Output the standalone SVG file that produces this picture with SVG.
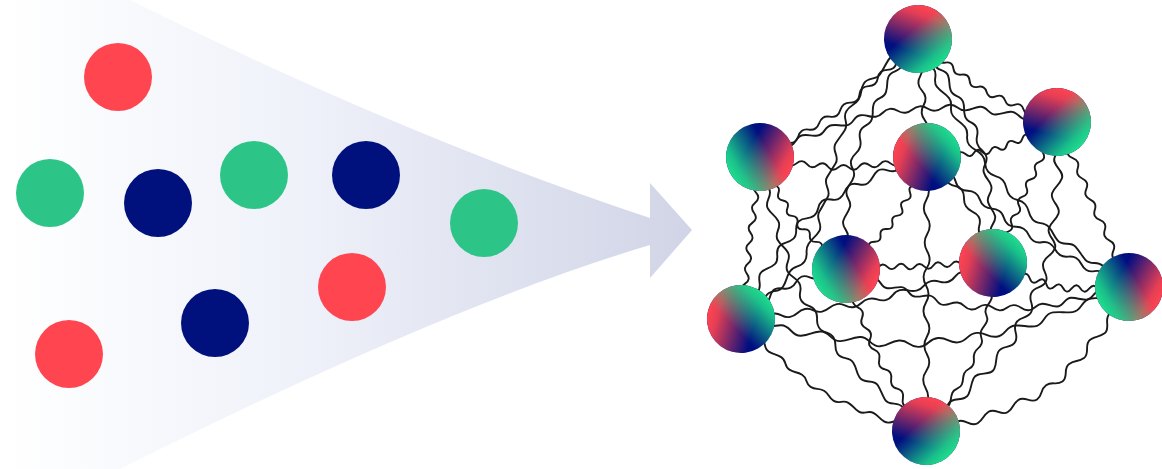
<svg xmlns="http://www.w3.org/2000/svg" xmlns:xlink="http://www.w3.org/1999/xlink" width="1162" height="469" viewBox="0 0 1162 469">
<style>
.red{fill:#FF4650}
.green{fill:#2DC487}
.navy{fill:#00117E}
.wv{fill:none;stroke:#1a1a1a;stroke-width:1.9;stroke-linecap:round;stroke-linejoin:round;vector-effect:non-scaling-stroke}
</style>
<defs>
<linearGradient id="funnelGrad" gradientUnits="userSpaceOnUse" x1="0" y1="0" x2="692" y2="0">
<stop offset="0" stop-color="#FFFFFF"/>
<stop offset="0.45" stop-color="#EEF1F9"/>
<stop offset="1" stop-color="#D0D4E6"/>
</linearGradient>
<linearGradient id="gRed" gradientUnits="userSpaceOnUse" x1="0" y1="-34" x2="0" y2="17">
<stop offset="0" stop-color="#FF4450" stop-opacity="1"/>
<stop offset="0.2" stop-color="#FF4450" stop-opacity="0.9"/>
<stop offset="0.95" stop-color="#FF4450" stop-opacity="0"/>
</linearGradient>
<linearGradient id="gGreen" gradientUnits="userSpaceOnUse" x1="29.44" y1="17" x2="-14.72" y2="-8.5">
<stop offset="0" stop-color="#1EDE8C" stop-opacity="1"/>
<stop offset="0.2" stop-color="#1EDE8C" stop-opacity="0.85"/>
<stop offset="0.88" stop-color="#1EDE8C" stop-opacity="0"/>
</linearGradient>
<g id="orb">
<circle r="34" fill="#000E80"/>
<circle r="34" fill="url(#gRed)"/>
<circle r="34" fill="url(#gGreen)"/>
</g>
<path id="wA" class="wv" d="M0 0 C6.25 0 6.25 3 12.5 3 S18.75 -2 25 -2 S31.25 3 37.5 3 S43.75 -3 50 -3 S56.25 2 62.5 2 S68.75 -3 75 -3 S81.25 2 87.5 2 S93.75 0 100 0"/>
<path id="wB" class="wv" d="M0 0 C6.25 0 6.25 6.7 12.5 6.7 S18.75 4.1 25 4.1 S31.25 12.2 37.5 12.2 S43.75 7 50 7 S56.25 12.3 62.5 12.3 S68.75 4.1 75 4.1 S81.25 6.7 87.5 6.7 S93.75 0 100 0"/>
<path id="wC" class="wv" d="M0 0 C6.25 0 6.25 3 12.5 3 S18.75 -2 25 -2 S31.25 3 37.5 3 S43.75 -3 50 -3 S56.25 2 62.5 2 S68.75 -3 75 -3 S81.25 3 87.5 3 S93.75 -2 100 -2 S106.25 3 112.5 3 S118.75 -3 125 -3 S131.25 2 137.5 2 S143.75 -3 150 -3 S156.25 3 162.5 3 S168.75 -2 175 -2 S181.25 3 187.5 3 S193.75 0 200 0"/>
<path id="wD" class="wv" d="M0 0 C6.25 0 6.25 5 12.5 5 S18.75 1.8 25 1.8 S31.25 8.6 37.5 8.6 S43.75 4.1 50 4.1 S56.25 10.3 62.5 10.3 S68.75 6.2 75 6.2 S81.25 12.8 87.5 12.8 S93.75 8 100 8 S106.25 12.8 112.5 12.8 S118.75 6.2 125 6.2 S131.25 10.3 137.5 10.3 S143.75 4.1 150 4.1 S156.25 8.6 162.5 8.6 S168.75 1.8 175 1.8 S181.25 5 187.5 5 S193.75 0 200 0"/>
<path id="wE" class="wv" d="M0 0 C6.25 0 6.25 7.9 12.5 7.9 S18.75 7.6 25 7.6 S31.25 16.9 37.5 16.9 S43.75 14.7 50 14.7 S56.25 22.8 62.5 22.8 S68.75 20.1 75 20.1 S81.25 27.5 87.5 27.5 S93.75 23 100 23 S106.25 27.5 112.5 27.5 S118.75 20.1 125 20.1 S131.25 22.8 137.5 22.8 S143.75 14.7 150 14.7 S156.25 16.9 162.5 16.9 S168.75 7.6 175 7.6 S181.25 7.9 187.5 7.9 S193.75 0 200 0"/>
<path id="wG" class="wv" d="M0 0 C7.5 0 7.5 7.7 15 7.7 S22.5 7.3 30 7.3 S37.5 16.6 45 16.6 S52.5 14.6 60 14.6 S67.5 23.2 75 23.2 S82.5 21.3 90 21.3 S97.5 29.7 105 29.7 S112.5 26.5 120 26.5 S127.5 32.6 135 32.6 S142.5 27 150 27 S157.5 31.6 165 31.6 S172.5 25.5 180 25.5 S187.5 29.7 195 29.7 S202.5 22.3 210 22.3 S217.5 24.2 225 24.2 S232.5 14.6 240 14.6 S247.5 15.6 255 15.6 S262.5 6.3 270 6.3 S277.5 6.7 285 6.7 S292.5 0 300 0"/>
<path id="wH" class="wv" d="M0 0 C7.5 0 7.5 3.2 15 3.2 S22.5 13.8 30 13.8 S37.5 13.2 45 13.2 S52.5 22 60 22 S67.5 18 75 18 S82.5 22 90 22 S97.5 13.2 105 13.2 S112.5 13.8 120 13.8 S127.5 3.2 135 3.2 S142.5 3 150 3 S157.5 -8.2 165 -8.2 S172.5 -8.8 180 -8.8 S187.5 -19.2 195 -19.2 S202.5 -17 210 -17 S217.5 -23 225 -23 S232.5 -16 240 -16 S247.5 -18.2 255 -18.2 S262.5 -8.8 270 -8.8 S277.5 -8.2 285 -8.2 S292.5 0 300 0"/>
</defs>

<g id="funnel">
<path d="M0 0 H130 Q403 136 650 218 V183 L692 230 L650 278 V245 Q445 306 120 469 H0 Z" fill="url(#funnelGrad)"/>
</g>

<g id="inputs">
<circle id="in1" class="red" cx="118" cy="77" r="34"/>
<circle id="in2" class="green" cx="50" cy="193" r="34"/>
<circle id="in3" class="navy" cx="158" cy="203" r="34"/>
<circle id="in4" class="green" cx="254" cy="175" r="34"/>
<circle id="in5" class="navy" cx="366" cy="175" r="34"/>
<circle id="in6" class="green" cx="484" cy="223" r="34"/>
<circle id="in7" class="red" cx="352" cy="287" r="34"/>
<circle id="in8" class="navy" cx="215" cy="323" r="34"/>
<circle id="in9" class="red" cx="69" cy="354" r="34"/>
</g>

<g id="connectors">
<use href="#wD" transform="translate(918 39) rotate(143.25) scale(0.986 -1)"/>
<use href="#wH" transform="translate(918 39) rotate(122.3) scale(1.104 1)"/>
<use href="#wE" transform="translate(918 39) rotate(107.4) scale(1.205 1)"/>
<use href="#wA" transform="translate(918 39) rotate(85.6) scale(1.183 1)"/>
<use href="#wD" transform="translate(918 39) rotate(30.8) scale(0.81 1)"/>
<use href="#wE" transform="translate(918 39) rotate(71.5) scale(1.181 -1)"/>
<use href="#wG" transform="translate(918 39) rotate(49.6) scale(1.085 1)"/>
<use href="#wG" transform="translate(760 157) rotate(-6.72) scale(0.997 -1)"/>
<use href="#wD" transform="translate(760 157) scale(0.835 1)"/>
<use href="#wC" transform="translate(760 157) rotate(96.7) scale(0.816 1)"/>
<use href="#wD" transform="translate(760 157) rotate(52.5) scale(0.706 1)"/>
<use href="#wG" transform="translate(760 157) rotate(58.8) scale(1.068 1.2)"/>
<use href="#wD" transform="translate(927 157) rotate(-15.1) scale(0.673 1)"/>
<use href="#wD" transform="translate(927 157) rotate(32.8) scale(1.201 1)"/>
<use href="#wE" transform="translate(927 157) rotate(138.95) scale(1.234 1.3)"/>
<use href="#wD" transform="translate(927 157) rotate(125.9) scale(0.691 -1)"/>
<use href="#wC" transform="translate(927 157) rotate(90.2) scale(1.37 1)"/>
<use href="#wB" transform="translate(927 157) rotate(58.1) scale(1.249 -1)"/>
<use href="#wC" transform="translate(1057 122) rotate(114.4) scale(0.774 1)"/>
<use href="#wG" transform="translate(1057 122) rotate(113) scale(1.119 -1.6)"/>
<use href="#wC" transform="translate(1057 122) rotate(66.4) scale(0.9 1)"/>
<use href="#wC" transform="translate(846 269) rotate(-2.3) scale(0.736 1)"/>
<use href="#wG" transform="translate(846 269) rotate(3.6) scale(0.945 1)"/>
<use href="#wD" transform="translate(846 269) rotate(63.7) scale(0.904 1)"/>
<use href="#wG" transform="translate(741 319) rotate(-4.7) scale(1.298 1.3)"/>
<use href="#wD" transform="translate(741 319) rotate(-12.5) scale(1.291 1)"/>
<use href="#wE" transform="translate(741 319) rotate(31.2) scale(1.082 0.8)"/>
<use href="#wE" transform="translate(993 263) rotate(111.7) scale(0.905 -0.7)"/>
<use href="#wD" transform="translate(993 263) rotate(10) scale(0.69 1.2)"/>
<use href="#wE" transform="translate(1129 287) rotate(144.65) scale(1.245 -1.4)"/>
<use href="#wB" transform="translate(846 269) rotate(154.5) scale(1.163 1)"/>
</g>

<g id="node-top"><use href="#orb" transform="translate(918,39) rotate(20)"/></g>
<g id="node-right-top"><use href="#orb" transform="translate(1057,122) rotate(15)"/></g>
<g id="node-left"><use href="#orb" transform="translate(760,157) rotate(120)"/></g>
<g id="node-center"><use href="#orb" transform="translate(927,157) rotate(290)"/></g>
<g id="node-mid-left"><use href="#orb" transform="translate(846,269) rotate(120)"/></g>
<g id="node-mid-right"><use href="#orb" transform="translate(993,263) rotate(285)"/></g>
<g id="node-right"><use href="#orb" transform="translate(1129,287) rotate(120)"/></g>
<g id="node-left-bottom"><use href="#orb" transform="translate(741,319) rotate(285)"/></g>
<g id="node-bottom"><use href="#orb" transform="translate(926,431) rotate(18)"/></g>
</svg>
